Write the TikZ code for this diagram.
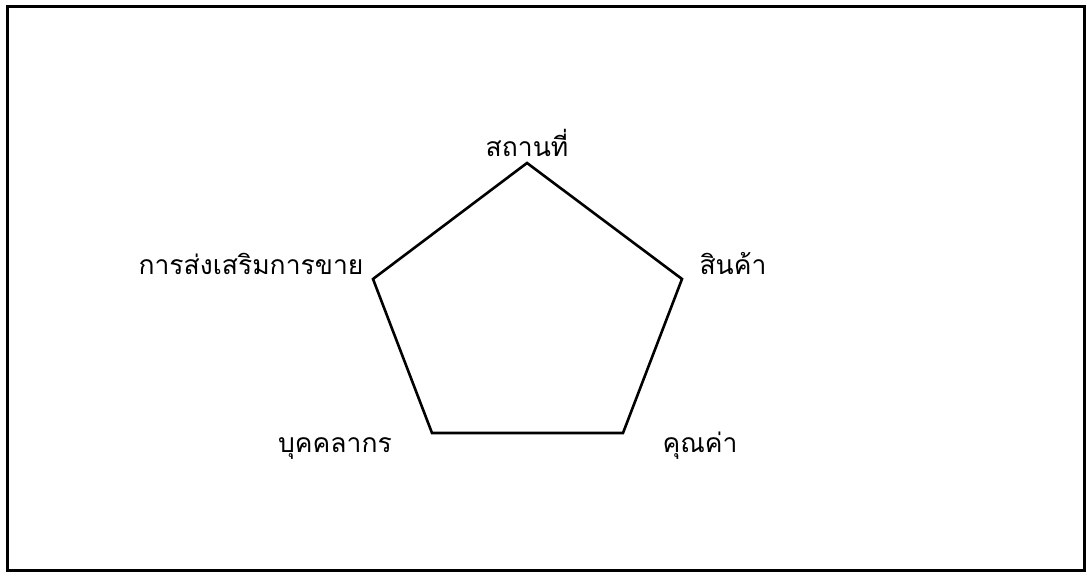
\documentclass[tikz,border=0pt]{standalone}
\usepackage{fontspec}
\newfontfamily\thaifont[Script=Thai]{Loma}
\tikzset{lbl/.style={font=\thaifont\fontsize{26.5}{30}\selectfont, inner sep=0pt, anchor=base},
  edge/.style={line width=2.6pt, line join=miter}}
\begin{document}
\begin{tikzpicture}[x=1pt,y=-1pt]
\useasboundingbox (0,0) rectangle (1087,577);
\draw[line width=3pt] (7,7) rectangle (1084,570);
\coordinate (t) at (527,163);
\coordinate (r) at (682,279);
\coordinate (br) at (623,433);
\coordinate (bl) at (432,433);
\coordinate (l) at (373,279);
\draw[edge] (t) -- (r) -- (br) -- (bl) -- (l) -- cycle;
\node[lbl] (nt) at (527,157) {สถานที่};
\node[lbl] (nr) at (733,275) {สินค้า};
\node[lbl] (nl) at (251,275) {การส่งเสริมการขาย};
\node[lbl] (nbl) at (335,452) {บุคคลากร};
\node[lbl] (nbr) at (700,452) {คุณค่า};
\end{tikzpicture}
\end{document}
